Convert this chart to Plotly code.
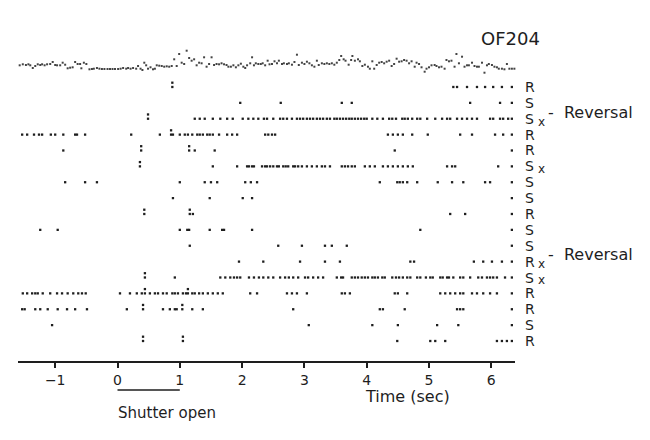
import plotly.graph_objects as go

# ---------------- data ----------------
row_labels = ["R", "S", "Sx", "R", "R", "Sx", "S", "S", "R", "S", "S", "Rx", "Sx", "R", "R", "S", "R"]
reversal_rows = [3, 12]

# spike times (sec); a repeated time is a doublet drawn as ":"
row_01 = [0.88, 0.88, 5.39, 5.45, 5.61, 5.77, 5.90, 6.03, 6.17, 6.33]
row_02 = [1.97, 2.62, 3.60, 3.76, 5.66, 6.14, 6.33]
row_03 = [0.49, 0.49, 1.24, 1.32, 1.40, 1.53, 1.65, 1.76, 1.85, 2.01, 2.10, 2.18, 2.26, 2.35,
          2.40, 2.50, 2.61, 2.66, 2.72, 2.80, 2.88, 2.93, 2.98, 3.04, 3.09, 3.14, 3.20, 3.25,
          3.30, 3.36, 3.41, 3.48, 3.52, 3.57, 3.62, 3.67, 3.72, 3.76, 3.81, 3.86, 3.91, 3.96,
          4.00, 4.09, 4.17, 4.26, 4.36, 4.41, 4.47, 4.57, 4.61, 4.66, 4.73, 4.81, 4.86, 4.97,
          5.10, 5.21, 5.29, 5.34, 5.45, 5.53, 5.61, 5.69, 5.77, 5.98, 6.03, 6.14, 6.19, 6.27, 6.33]
row_04 = [-1.53, -1.45, -1.34, -1.26, -1.21, -1.07, -1.00, -0.87, -0.68, -0.65, -0.52, 0.22,
          0.68, 0.86, 0.86, 0.89, 1.00, 1.08, 1.13, 1.20, 1.28, 1.32, 1.37, 1.44, 1.48, 1.53,
          1.63, 1.76, 1.84, 1.92, 2.37, 2.42, 2.48, 2.53, 4.34, 4.42, 4.50, 4.58, 4.73, 4.98,
          5.50, 5.69, 6.06, 6.19, 6.33]
row_05 = [-0.87, 0.38, 0.38, 1.15, 1.15, 1.24, 1.56, 4.45, 6.33]
row_06 = [0.36, 0.36, 1.53, 1.92, 2.08, 2.11, 2.16, 2.19, 2.32, 2.37, 2.40, 2.45, 2.50, 2.56,
          2.59, 2.66, 2.70, 2.74, 2.82, 2.85, 2.90, 2.96, 3.04, 3.12, 3.20, 3.28, 3.33, 3.41,
          3.60, 3.65, 3.70, 3.76, 3.81, 3.97, 4.05, 4.13, 4.26, 4.34, 4.42, 4.50, 4.58, 4.66,
          4.74, 5.29, 5.37, 5.42, 6.11, 6.33]
row_07 = [-0.84, -0.52, -0.33, 1.00, 1.40, 1.50, 1.60, 2.05, 2.14, 2.24, 4.21, 4.49, 4.53,
          4.58, 4.65, 4.81, 5.14, 5.37, 5.55, 5.90, 5.98, 6.33]
row_08 = [0.89, 1.48, 2.01, 2.16, 6.33]
row_09 = [0.43, 0.43, 1.16, 1.16, 1.21, 5.34, 5.58, 6.33]
row_10 = [-1.24, -0.96, 1.00, 1.12, 1.15, 1.48, 1.68, 1.71, 2.16, 4.86, 6.33]
row_11 = [1.16, 2.58, 2.96, 3.33, 3.44, 3.68, 6.33]
row_12 = [1.95, 2.34, 2.93, 3.33, 3.57, 4.70, 4.76, 5.72, 5.87, 6.01, 6.17, 6.33]
row_13 = [0.44, 0.44, 0.92, 1.65, 1.73, 1.81, 1.87, 1.92, 1.97, 2.11, 2.19, 2.27, 2.34, 2.42,
          2.50, 2.61, 2.69, 2.75, 2.82, 2.90, 3.01, 3.06, 3.14, 3.22, 3.30, 3.52, 3.59, 3.62,
          3.76, 3.81, 3.86, 3.92, 3.97, 4.02, 4.09, 4.13, 4.18, 4.25, 4.29, 4.41, 4.47, 4.52,
          4.58, 4.65, 4.70, 4.81, 4.86, 4.95, 5.02, 5.06, 5.18, 5.22, 5.29, 5.32, 5.39, 5.50,
          5.55, 5.66, 5.79, 5.85, 5.93, 5.98, 6.03, 6.09, 6.22, 6.33]
row_14 = [-1.52, -1.45, -1.37, -1.32, -1.28, -1.20, -1.08, -0.97, -0.89, -0.80, -0.71, -0.63,
          -0.57, -0.51, 0.04, 0.20, 0.31, 0.39, 0.44, 0.44, 0.52, 0.60, 0.65, 0.73, 0.79, 0.88,
          0.92, 0.97, 1.05, 1.10, 1.13, 1.13, 1.20, 1.24, 1.31, 1.37, 1.45, 1.53, 1.61, 1.69,
          2.13, 2.24, 2.72, 2.80, 2.88, 3.04, 3.60, 3.65, 3.73, 4.45, 4.50, 4.65, 5.18, 5.26,
          5.34, 5.42, 5.50, 5.55, 5.69, 5.77, 5.87, 5.98, 6.09, 6.33]
row_15 = [-1.53, -1.49, -1.32, -1.24, -1.12, -0.96, -0.81, -0.68, -0.49, 0.15, 0.41, 0.41,
          0.73, 0.84, 0.92, 0.95, 1.04, 1.04, 1.20, 1.37, 2.82, 4.21, 4.26, 4.61, 5.45, 5.50,
          5.55, 6.33]
row_16 = [-1.05, 3.07, 4.09, 4.50, 5.13, 5.47, 6.33]
row_17 = [0.41, 0.41, 1.05, 1.05, 4.49, 5.02, 5.10, 5.26, 6.09, 6.17, 6.25, 6.33]

rows = [row_01, row_02, row_03, row_04, row_05, row_06, row_07, row_08, row_09,
        row_10, row_11, row_12, row_13, row_14, row_15, row_16, row_17]

# top analog trace (time in sec, deflection in arbitrary units)
trace_t = [-1.57, -1.52, -1.47, -1.43, -1.40, -1.36, -1.32, -1.28, -1.24, -1.21,
           -1.17, -1.13, -1.08, -1.04, -1.00, -0.97, -0.92, -0.88, -0.84, -0.80,
           -0.76, -0.72, -0.68, -0.64, -0.60, -0.58, -0.54, -0.50, -0.45, -0.41,
           -0.38, -0.33, -0.29, -0.25, -0.21, -0.16, -0.12, -0.08, -0.04, 0.01,
           0.05, 0.09, 0.14, 0.17, 0.21, 0.25, 0.30, 0.33, 0.37, 0.40,
           0.43, 0.46, 0.49, 0.53, 0.57, 0.60, 0.63, 0.67, 0.71, 0.75,
           0.79, 0.83, 0.87, 0.91, 0.95, 0.99, 1.03, 1.07, 1.11, 1.15,
           1.19, 1.23, 1.27, 1.31, 1.35, 1.39, 1.43, 1.47, 1.51, 1.55,
           1.59, 1.63, 1.67, 1.71, 1.75, 1.78, 1.82, 1.86, 1.90, 1.94,
           1.98, 2.02, 2.05, 2.08, 2.13, 2.16, 2.19, 2.22, 2.26, 2.30,
           2.33, 2.37, 2.41, 2.44, 2.48, 2.52, 2.56, 2.59, 2.64, 2.67,
           2.72, 2.75, 2.80, 2.84, 2.88, 2.91, 2.96, 3.00, 3.04, 3.08,
           3.12, 3.16, 3.20, 3.23, 3.28, 3.32, 3.36, 3.40, 3.44, 3.48,
           3.52, 3.56, 3.59, 3.63, 3.66, 3.71, 3.75, 3.77, 3.81, 3.86,
           3.89, 3.93, 3.97, 4.02, 4.05, 4.09, 4.12, 4.16, 4.20, 4.24,
           4.28, 4.32, 4.36, 4.40, 4.44, 4.48, 4.52, 4.56, 4.60, 4.64,
           4.68, 4.72, 4.77, 4.80, 4.84, 4.88, 4.93, 4.96, 5.00, 5.04,
           5.09, 5.12, 5.16, 5.20, 5.25, 5.28, 5.32, 5.36, 5.41, 5.44,
           5.48, 5.53, 5.57, 5.61, 5.64, 5.69, 5.73, 5.77, 5.80, 5.85,
           5.89, 5.93, 5.96, 6.01, 6.05, 6.09, 6.12, 6.17, 6.21, 6.25,
           6.29, 6.33, 6.37]
trace_v = [-0.3, 0.7, 0, 0.7, -0.3, -3, -1, 0.7, 0, 0.7,
           -0.3, 0.7, 1, 3, 0, -0.3, -0.3, 2.3, 0.3, -3.3,
           -2.7, -2.3, 3, 1, 1, -3.3, 2.3, 1, -4.3, -4,
           -3.7, -3, -3.7, -4, -4, -4, -4, -4, -4, -4,
           -3.7, -3, -3.7, -3, -3.7, -3, -3.7, -1, -3.7, -5,
           2.3, -0.3, -3.7, -2.3, -4.3, -3.7, -0.3, -0.7, -1, -1.7,
           -1.3, -1.7, -1, 5.7, -1, 11, 2.3, 1, 14.3, 7,
           4.3, 5.7, -0.3, 2.3, 1.7, 7.7, -1.7, 1, 7.7, 0,
           1, 0.7, 1.7, 0.7, 0, -1.7, -1.7, -0.3, -2.3, -0.3,
           1.3, -1.7, -3, -0.3, 1.7, 7.7, -0.3, 1.7, 1, 1,
           1.7, -0.3, 4.3, 0.7, 1, 3.7, 1.7, 4.3, 1, 1.7,
           1, 1.7, 0.3, 3, 10.3, 0, 2.3, 1, 3.3, 1.7,
           -0.3, -1.7, 4.3, 0, 1.7, 1, 1.7, 1, 1.7, 0.3,
           2.3, 5, 9, 5.7, 4.3, 0.3, 5, 9, 4.3, 5.7,
           3.7, -1, 0.3, -1.7, -3.7, 3.7, -3.7, 0, 2.3, 3,
           1.7, 3.3, 4.3, -1, 1, 6.3, 3.3, 3.7, 5, 4.3,
           1.7, 3.7, -1.7, 2.3, 1, -2.3, -6.7, -3.7, -2.3, -0.3,
           0, -1, -2.3, -1.7, -3.7, 5, 3.7, 4.3, -1.7, 11,
           1.7, 8.3, -1.7, -0.3, -0.3, 2.3, -1, -1.7, -1.7, 2.3,
           -7.7, -0.3, 1, 0, -1.7, -2.3, -3.7, -3.7, -4.3, 1,
           -3.7, -3.7, -3.7]

shutter_start = 0
shutter_end = 1
tick_vals = [-1, 0, 1, 2, 3, 4, 5, 6]
tick_text = ["\u22121", "0", "1", "2", "3", "4", "5", "6"]

# ---------------- figure ----------------
INK = "#1e1e1e"
FONT = "DejaVu Sans"

xs_single, ys_single = [], []
for i, r in enumerate(rows, start=1):
    seen = set()
    for t in r:
        xs_single.append(t)
        if t in seen:
            ys_single.append(i - 0.27)
        else:
            ys_single.append(i)
            seen.add(t)

fig = go.Figure()
fig.add_trace(go.Scatter(
    x=xs_single, y=ys_single, mode="markers",
    marker=dict(symbol="square", size=2.3, color=INK, line=dict(width=0)),
    cliponaxis=False, hoverinfo="skip"))
fig.add_trace(go.Scatter(
    x=trace_t, y=trace_v, mode="markers", yaxis="y2",
    marker=dict(symbol="square", size=2, color="#444", line=dict(width=0)),
    cliponaxis=False, hoverinfo="skip"))

annotations = []
for i, lab in enumerate(row_labels, start=1):
    annotations.append(dict(x=1.017, xref="paper", y=i, yref="y", text=lab[0],
                            showarrow=False, xanchor="left", yanchor="middle",
                            font=dict(family=FONT, size=14, color=INK)))
    if len(lab) > 1:
        annotations.append(dict(x=1.042, xref="paper", y=i + 0.18, yref="y", text=lab[1:],
                                showarrow=False, xanchor="left", yanchor="middle",
                                font=dict(family=FONT, size=12, color=INK)))
for r in reversal_rows:
    annotations.append(dict(x=1.062, xref="paper", y=r - 0.42, yref="y",
                            text="-  Reversal", showarrow=False,
                            xanchor="left", yanchor="middle",
                            font=dict(family=FONT, size=16, color=INK)))
annotations.append(dict(x=0.99, xref="paper", y=1.006, yref="paper", text="OF204",
                        showarrow=False, xanchor="center", yanchor="middle",
                        font=dict(family=FONT, size=18, color=INK)))
annotations.append(dict(x=0.783, xref="paper", y=-0.112, yref="paper", text="Time (sec)",
                        showarrow=False, xanchor="center", yanchor="middle",
                        font=dict(family=FONT, size=16, color=INK)))
annotations.append(dict(x=0.30, xref="paper", y=-0.162, yref="paper", text="Shutter open",
                        showarrow=False, xanchor="center", yanchor="middle",
                        font=dict(family=FONT, size=15, color=INK)))

# page body has an 8px default margin: figure is sized/margined to compensate
fig.update_layout(
    width=642, height=432,
    margin=dict(l=10, r=135, t=32, b=79),
    paper_bgcolor="white", plot_bgcolor="white",
    showlegend=False,
    xaxis=dict(range=[-1.597, 6.38], tickvals=tick_vals, ticktext=tick_text,
               ticks="outside", ticklen=5, tickwidth=1.5, tickcolor=INK,
               showline=True, linecolor=INK, linewidth=1.5,
               showgrid=False, zeroline=False,
               tickfont=dict(family=FONT, size=14, color=INK)),
    yaxis=dict(range=[18.26, -1.96], visible=False, showgrid=False, zeroline=False),
    yaxis2=dict(range=[-296, 25], overlaying="y", visible=False,
                showgrid=False, zeroline=False),
    annotations=annotations,
    shapes=[dict(type="line", xref="x", yref="paper",
                 x0=shutter_start, x1=shutter_end, y0=-0.0903, y1=-0.0903,
                 line=dict(color=INK, width=1.5))],
)

fig.write_html("out.html")
